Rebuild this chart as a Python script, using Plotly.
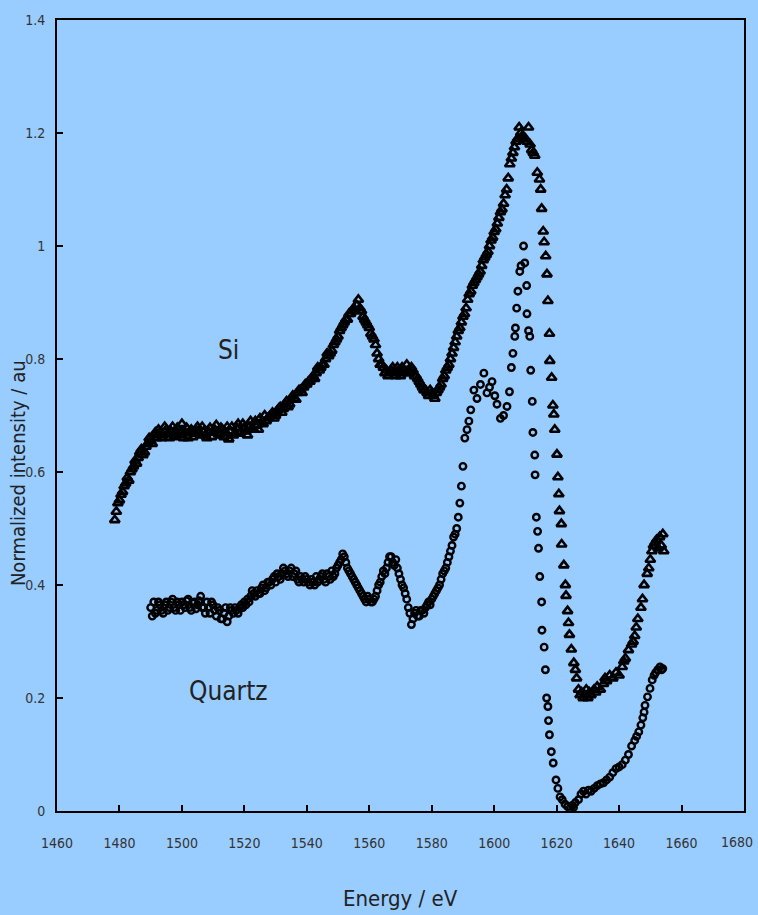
import plotly.graph_objects as go

# ---- Data ----
si_energy = [
    1478.5, 1479, 1479.5, 1480, 1480.5, 1481, 1481.5, 1482, 1482.5, 1483, 1483.5, 1484, 1484.5, 1485,
    1486, 1487, 1488, 1489, 1490, 1491, 1492, 1493, 1494, 1495, 1496, 1497, 1498, 1499, 1500,
    1501, 1502, 1503, 1504, 1505, 1506, 1507, 1508, 1509, 1510, 1511, 1512, 1513, 1514, 1515,
    1516, 1517, 1518, 1519, 1520, 1521, 1522, 1523, 1524, 1525, 1526, 1527, 1528, 1529, 1530,
    1531, 1532, 1533, 1534, 1535, 1536, 1537, 1538, 1539, 1540, 1541, 1542, 1543, 1544, 1545,
    1546, 1547, 1548, 1549, 1550, 1551, 1552, 1553, 1554, 1555, 1556, 1556.5, 1557, 1558, 1559,
    1560, 1561, 1562, 1563, 1564, 1565, 1566, 1567, 1568, 1569, 1570, 1571, 1572, 1573, 1574,
    1575, 1576, 1577, 1578, 1579, 1580, 1581, 1582, 1583, 1584, 1585, 1586, 1587, 1588, 1589,
    1590, 1591, 1592, 1593, 1594, 1595, 1596, 1597, 1598, 1599, 1600, 1601, 1602, 1603, 1604,
    1604.5, 1605, 1605.5, 1606, 1606.5, 1607, 1607.5, 1608, 1608.5, 1609, 1609.5, 1610, 1610.5,
    1611, 1611.5, 1612, 1612.5, 1613, 1613.8, 1614.5, 1614.9, 1615.2, 1615.7, 1616.0, 1616.5,
    1616.9, 1617.2, 1617.7, 1617.8, 1618.4, 1618.8, 1619.1, 1619.4, 1620.1, 1620.4, 1620.7,
    1620.9, 1621.5, 1621.6, 1622.3, 1622.8, 1623.0, 1623.5, 1623.8, 1624.1, 1624.7, 1625.5,
    1626.0, 1626.4, 1627, 1627.5, 1628, 1628.5, 1629, 1629.5, 1630, 1630.5, 1631, 1632, 1632.5,
    1633, 1634, 1635, 1635.5, 1636, 1637, 1638, 1639, 1640, 1641, 1641.5, 1642, 1643, 1644,
    1644.5, 1645, 1645.5, 1646, 1647, 1647.5, 1648, 1649, 1649.5, 1650, 1650.5, 1651, 1651.5,
    1652, 1652.5, 1653, 1653.5, 1654, 1654.3,
]
si_intensity = [
    0.515, 0.53, 0.545, 0.55, 0.56, 0.565, 0.575, 0.58, 0.59, 0.585, 0.60, 0.605, 0.61, 0.62,
    0.625, 0.64, 0.635, 0.65, 0.655, 0.665, 0.66, 0.67, 0.665, 0.675, 0.66, 0.68, 0.67, 0.665, 0.685,
    0.67, 0.66, 0.675, 0.668, 0.68, 0.665, 0.672, 0.66, 0.678, 0.67, 0.683, 0.665, 0.675, 0.67, 0.658,
    0.68, 0.668, 0.685, 0.672, 0.678, 0.665, 0.69, 0.675, 0.682, 0.695, 0.685, 0.69, 0.698, 0.705, 0.70,
    0.712, 0.705, 0.72, 0.715, 0.728, 0.73, 0.74, 0.745, 0.75, 0.755, 0.76, 0.77, 0.775, 0.78, 0.79,
    0.80, 0.805, 0.815, 0.83, 0.84, 0.855, 0.865, 0.87, 0.88, 0.89, 0.895, 0.905, 0.89, 0.875, 0.865,
    0.855, 0.84, 0.825, 0.80, 0.79, 0.775, 0.77, 0.78, 0.775, 0.785, 0.77, 0.78, 0.79, 0.775, 0.78,
    0.77, 0.76, 0.75, 0.745, 0.735, 0.74, 0.73, 0.745, 0.755, 0.77, 0.785, 0.80, 0.82, 0.84, 0.855,
    0.875, 0.89, 0.915, 0.93, 0.94, 0.95, 0.965, 0.98, 0.99, 1.01, 1.025, 1.04, 1.06, 1.075, 1.10,
    1.12, 1.145, 1.155, 1.165, 1.175, 1.185, 1.19, 1.21, 1.20, 1.195, 1.19, 1.19, 1.185,
    1.21, 1.18, 1.17, 1.165, 1.16, 1.13, 1.118, 1.10, 1.066, 1.026, 1.007, 0.982,
    0.95, 0.903, 0.845, 0.797, 0.767, 0.718, 0.702, 0.675, 0.631, 0.591, 0.561,
    0.531, 0.508, 0.472, 0.435, 0.40, 0.381, 0.354, 0.333, 0.312, 0.286, 0.262,
    0.25, 0.235, 0.215, 0.205, 0.21, 0.20, 0.205, 0.215, 0.20, 0.21, 0.205, 0.215, 0.21,
    0.22, 0.215, 0.225, 0.235, 0.23, 0.24, 0.235, 0.245, 0.24, 0.255, 0.265, 0.27, 0.285, 0.295,
    0.30, 0.31, 0.325, 0.34, 0.36, 0.375, 0.40, 0.42, 0.43, 0.445, 0.46, 0.47, 0.475,
    0.48, 0.465, 0.485, 0.47, 0.49, 0.46,
]
# additional (interleaved) Si readings in the dense noisy part
si_energy_extra = [
    1485.5, 1486.5, 1487.5, 1488.5, 1489.5, 1490.5, 1491.5, 1492.5, 1493.5, 1494.5,
    1495.5, 1496.5, 1497.5, 1498.5, 1499.5, 1500.5, 1501.5, 1502.5, 1503.5, 1504.5,
    1505.5, 1506.5, 1507.5, 1508.5, 1509.5, 1510.5, 1511.5, 1512.5, 1513.5, 1514.5,
    1515.5, 1516.5, 1517.5, 1518.5, 1519.5, 1520.5, 1521.5, 1522.5, 1523.5, 1524.5,
    1525.5, 1526.5, 1527.5, 1528.5, 1529.5, 1530.5, 1531.5, 1532.5, 1533.5, 1534.5,
    1535.5, 1536.5, 1537.5, 1538.5, 1539.5, 1540.5, 1541.5, 1542.5, 1543.5, 1544.5,
    1545.5, 1546.5, 1547.5, 1548.5, 1549.5, 1550.5, 1551.5, 1552.5, 1553.5, 1554.5,
    1555.5, 1557.5, 1558.5, 1559.5, 1560.5, 1561.5, 1562.5, 1563.5, 1564.5, 1565.5,
    1566.5, 1567.5, 1568.5, 1569.5, 1570.5, 1571.5, 1572.5, 1573.5, 1574.5, 1575.5,
    1576.5, 1577.5, 1578.5, 1579.5, 1580.5, 1581.5, 1582.5, 1583.5, 1584.5, 1585.5,
    1586.5, 1587.5, 1588.5, 1589.5, 1590.5, 1591.5, 1592.5, 1593.5, 1594.5, 1595.5,
    1596.5, 1597.5, 1598.5, 1599.5, 1600.5, 1601.5, 1602.5, 1603.5,
]
si_intensity_extra = [
    0.615, 0.635, 0.63, 0.645, 0.66, 0.65, 0.67, 0.675, 0.66, 0.68,
    0.668, 0.672, 0.662, 0.678, 0.672, 0.66, 0.678, 0.672, 0.662, 0.675,
    0.67, 0.68, 0.665, 0.672, 0.662, 0.675, 0.67, 0.678, 0.662, 0.68,
    0.672, 0.665, 0.678, 0.668, 0.685, 0.672, 0.68, 0.678, 0.69, 0.675,
    0.688, 0.70, 0.695, 0.70, 0.695, 0.708, 0.715, 0.712, 0.725, 0.72,
    0.735, 0.728, 0.745, 0.74, 0.755, 0.76, 0.765, 0.765, 0.785, 0.785,
    0.79, 0.81, 0.81, 0.825, 0.835, 0.85, 0.86, 0.87, 0.88, 0.885,
    0.885, 0.885, 0.87, 0.86, 0.845, 0.835, 0.81, 0.79, 0.785, 0.78,
    0.775, 0.785, 0.77, 0.78, 0.785, 0.775, 0.78, 0.785, 0.77, 0.765,
    0.755, 0.745, 0.74, 0.745, 0.735, 0.74, 0.75, 0.765, 0.78, 0.79,
    0.81, 0.83, 0.85, 0.865, 0.88, 0.905, 0.92, 0.935, 0.945, 0.955,
    0.975, 0.985, 1.0, 1.015, 1.03, 1.05, 1.065, 1.09,
]

quartz_energy = [
    1490, 1490.5, 1491, 1492, 1493, 1494, 1495, 1496, 1497, 1498, 1499, 1500, 1501, 1502, 1503,
    1504, 1505, 1506, 1507, 1508, 1509, 1510, 1511, 1512, 1513, 1514, 1515, 1516, 1517, 1518,
    1519, 1520, 1521, 1522, 1523, 1524, 1525, 1526, 1527, 1528, 1529, 1530, 1531, 1532, 1533,
    1534, 1535, 1536, 1537, 1538, 1539, 1540, 1541, 1542, 1543, 1544, 1545, 1546, 1547, 1548,
    1549, 1550, 1551, 1552, 1553, 1554, 1555, 1556, 1557, 1558, 1559, 1560, 1561, 1562, 1563,
    1564, 1565, 1566, 1567, 1568, 1569, 1570, 1571, 1572, 1573, 1573.5, 1574, 1575, 1576, 1577,
    1578, 1579, 1580, 1581, 1582, 1583, 1584, 1585, 1586, 1587, 1588, 1588.5, 1589, 1589.5, 1590,
    1590.6, 1591.3, 1591.9, 1592.5, 1593.5, 1594.5, 1595.6, 1596.7, 1597.7, 1598.5, 1599.3,
    1600.2, 1600.9, 1602, 1603, 1604.1, 1604.9, 1605.5, 1606, 1606.6, 1606.8, 1607.2, 1607.6,
    1608.2, 1608.6, 1609.4, 1609.8, 1610.4, 1610.5, 1611, 1611.4, 1611.7, 1612.2, 1612.4, 1613,
    1613.1, 1613.5, 1613.9, 1614.2, 1614.6, 1615.2, 1615.3, 1616, 1616.4, 1616.8, 1617.2, 1617.4,
    1617.7, 1618.3, 1618.9, 1619.8, 1620.4, 1621.1, 1621.8, 1622.7, 1623.5, 1624.3, 1625, 1625.4,
    1626, 1627, 1627.8, 1628.6, 1629.4, 1630.2, 1631, 1632, 1633, 1634, 1635, 1636, 1637, 1638,
    1639, 1640, 1641, 1642, 1643, 1644, 1645, 1645.6, 1646.3, 1647, 1647.6, 1648, 1648.3, 1649.1,
    1649.9, 1650.6, 1651.2, 1651.7, 1652.4, 1653.1, 1653.6, 1654,
]
quartz_intensity = [
    0.36, 0.345, 0.37, 0.355, 0.365, 0.35, 0.37, 0.36, 0.375, 0.355, 0.365, 0.37, 0.36, 0.375, 0.355,
    0.37, 0.365, 0.38, 0.36, 0.37, 0.35, 0.365, 0.345, 0.355, 0.34, 0.36, 0.345, 0.355, 0.36, 0.35,
    0.365, 0.37, 0.375, 0.38, 0.385, 0.39, 0.385, 0.40, 0.395, 0.405, 0.41, 0.405, 0.415, 0.42, 0.425,
    0.415, 0.43, 0.42, 0.41, 0.415, 0.405, 0.41, 0.40, 0.405, 0.415, 0.41, 0.42, 0.405, 0.415, 0.425,
    0.42, 0.435, 0.445, 0.45, 0.43, 0.42, 0.41, 0.40, 0.39, 0.38, 0.37, 0.375, 0.37, 0.38, 0.40,
    0.415, 0.42, 0.44, 0.45, 0.435, 0.43, 0.41, 0.395, 0.375, 0.35, 0.33, 0.34, 0.355, 0.345, 0.355,
    0.36, 0.37, 0.375, 0.385, 0.395, 0.41, 0.425, 0.44, 0.46, 0.485, 0.50, 0.52, 0.545, 0.575, 0.61,
    0.66, 0.675, 0.69, 0.71, 0.745, 0.73, 0.755, 0.775, 0.74, 0.75, 0.76,
    0.735, 0.72, 0.695, 0.70, 0.716, 0.742, 0.785, 0.81, 0.84, 0.855, 0.89, 0.92,
    0.955, 0.965, 1.00, 0.97, 0.93, 0.88, 0.85, 0.84, 0.78, 0.725, 0.67, 0.63,
    0.595, 0.52, 0.495, 0.465, 0.415, 0.37, 0.32, 0.29, 0.25, 0.20, 0.185, 0.16,
    0.135, 0.105, 0.085, 0.055, 0.04, 0.025, 0.02, 0.012, 0.008, 0.004, 0.01, 0.006,
    0.015, 0.02, 0.03, 0.035, 0.03, 0.037, 0.035, 0.04, 0.045, 0.048, 0.05, 0.055, 0.06, 0.068,
    0.075, 0.078, 0.082, 0.09, 0.10, 0.115, 0.125, 0.132, 0.14, 0.152, 0.165, 0.175, 0.187, 0.202,
    0.217, 0.232, 0.24, 0.245, 0.25, 0.255, 0.25, 0.252,
]
# additional (interleaved) Quartz readings in the dense noisy part
quartz_energy_extra = [
    1491.5, 1492.5, 1493.5, 1494.5, 1495.5, 1496.5, 1497.5, 1498.5, 1499.5, 1500.5,
    1501.5, 1502.5, 1503.5, 1504.5, 1505.5, 1506.5, 1507.5, 1508.5, 1509.5, 1510.5,
    1511.5, 1512.5, 1513.5, 1514.5, 1515.5, 1516.5, 1517.5, 1518.5, 1519.5, 1520.5,
    1521.5, 1522.5, 1523.5, 1524.5, 1525.5, 1526.5, 1527.5, 1528.5, 1529.5, 1530.5,
    1531.5, 1532.5, 1533.5, 1534.5, 1535.5, 1536.5, 1537.5, 1538.5, 1539.5, 1540.5,
    1541.5, 1542.5, 1543.5, 1544.5, 1545.5, 1546.5, 1547.5, 1548.5, 1549.5, 1550.5,
    1551.5, 1552.5, 1553.5, 1554.5, 1555.5, 1556.5, 1557.5, 1558.5, 1559.5, 1560.5,
    1561.5, 1562.5, 1563.5, 1564.5, 1565.5, 1566.5, 1567.5, 1568.5, 1569.5, 1570.5,
    1571.5, 1572.5, 1574.5, 1575.5, 1576.5, 1577.5, 1578.5, 1579.5, 1580.5, 1581.5,
    1582.5, 1583.5, 1584.5, 1585.5, 1586.5, 1587.5,
]
quartz_intensity_extra = [
    0.35, 0.37, 0.355, 0.365, 0.355, 0.37, 0.36, 0.37, 0.355, 0.365,
    0.372, 0.36, 0.368, 0.358, 0.372, 0.36, 0.35, 0.36, 0.37, 0.355,
    0.36, 0.34, 0.35, 0.335, 0.36, 0.35, 0.355, 0.36, 0.36, 0.365,
    0.37, 0.39, 0.38, 0.385, 0.395, 0.39, 0.405, 0.40, 0.415, 0.42,
    0.41, 0.43, 0.42, 0.425, 0.415, 0.425, 0.405, 0.41, 0.415, 0.405,
    0.41, 0.40, 0.405, 0.415, 0.41, 0.42, 0.41, 0.415, 0.43, 0.44,
    0.455, 0.44, 0.425, 0.415, 0.405, 0.395, 0.385, 0.375, 0.38, 0.37,
    0.375, 0.39, 0.405, 0.425, 0.43, 0.45, 0.44, 0.445, 0.42, 0.40,
    0.385, 0.36, 0.35, 0.345, 0.355, 0.35, 0.365, 0.365, 0.38, 0.39,
    0.40, 0.42, 0.43, 0.45, 0.47, 0.49,
]

x_ticks = [1460, 1480, 1500, 1520, 1540, 1560, 1580, 1600, 1620, 1640, 1660, 1680]
x_tick_labels = ["1460", "1480", "1500", "1520", "1540", "1560", "1580", "1600", "1620", "1640", "1660", ""]
last_x_label = "1680"
y_ticks = [0, 0.2, 0.4, 0.6, 0.8, 1.0, 1.2, 1.4]
y_tick_labels = ["0", "0.2", "0.4", "0.6", "0.8", "1", "1.2", "1.4"]

FONT = "DejaVu Sans Condensed, Liberation Sans Narrow, Arial Narrow, sans-serif"
BG = "#99CCFF"
TICK_COLOR = "#333333"

fig = go.Figure()
fig.add_trace(go.Scatter(
    x=si_energy + si_energy_extra, y=si_intensity + si_intensity_extra, mode="markers", name="Si",
    marker=dict(symbol="triangle-up-open", size=8.5, color="black", line=dict(width=2.6, color="black")),
))
fig.add_trace(go.Scatter(
    x=quartz_energy + quartz_energy_extra, y=quartz_intensity + quartz_intensity_extra,
    mode="markers", name="Quartz",
    marker=dict(symbol="circle-open", size=6.5, color="black", line=dict(width=2.4, color="black")),
))

fig.add_annotation(x=1515, y=0.816, text="Si", showarrow=False,
                   font=dict(family=FONT, size=26, color="#222222"))
fig.add_annotation(x=1515, y=0.213, text="Quartz", showarrow=False,
                   font=dict(family=FONT, size=26, color="#222222"))
fig.add_annotation(xref="paper", yref="paper", x=-0.057, y=0.427, text="Normalized intensity / au",
                   textangle=-90, showarrow=False, xanchor="center", yanchor="middle",
                   font=dict(family=FONT, size=20, color="#222222"))
fig.add_annotation(xref="paper", yref="paper", x=0.5, y=-0.11, text="Energy / eV",
                   showarrow=False, xanchor="center", yanchor="middle",
                   font=dict(family=FONT, size=22, color="#222222"))
# last x tick label, nudged to stay inside the page
fig.add_annotation(x=1680, xref="x", yref="paper", y=-0.039, text=last_x_label, showarrow=False,
                   xanchor="right", yanchor="middle", xshift=11,
                   font=dict(family=FONT, size=14, color=TICK_COLOR))

fig.update_layout(
    width=758, height=915,
    margin=dict(l=57, r=12, t=17, b=104),
    paper_bgcolor=BG, plot_bgcolor=BG,
    showlegend=False,
    font=dict(family=FONT, color=TICK_COLOR),
)
fig.update_xaxes(
    range=[1460, 1680], tickvals=x_ticks, ticktext=x_tick_labels, ticks="inside", ticklen=6,
    tickwidth=2, tickcolor="black",
    showline=True, linecolor="black", linewidth=2, mirror=True, showgrid=False, zeroline=False,
    tickfont=dict(family=FONT, size=14, color=TICK_COLOR), ticklabelstandoff=18,
)
fig.update_yaxes(
    range=[0, 1.4], tickvals=y_ticks, ticktext=y_tick_labels, ticks="inside", ticklen=6, tickwidth=2,
    tickcolor="black", showline=True, linecolor="black", linewidth=2, mirror=True, showgrid=False,
    zeroline=False, tickfont=dict(family=FONT, size=14, color=TICK_COLOR), ticklabelstandoff=7,
)

fig.write_html(
    "out.html",
    config={"displayModeBar": False},
    post_script="document.body.style.margin='0';document.body.style.background='#99CCFF';",
)
